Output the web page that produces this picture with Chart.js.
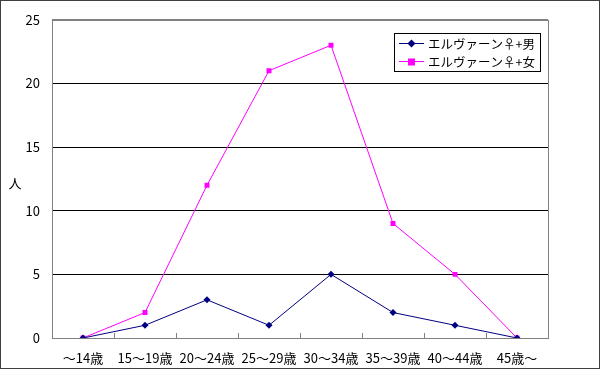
<!DOCTYPE html>
<html>
<head>
<meta charset="utf-8">
<script src="https://cdn.jsdelivr.net/npm/chart.js@4/dist/chart.umd.min.js"></script>
<style>
  html, body { margin: 0; padding: 0; background: #fff; }
  #wrap { width: 600px; height: 369px; position: relative; }
</style>
</head>
<body>
<div id="wrap"><canvas id="chart" width="600" height="369"></canvas></div>
<script>
const categories = ['～14歳', '15～19歳', '20～24歳', '25～29歳', '30～34歳', '35～39歳', '40～44歳', '45歳～'];
const maleValues = [0, 1, 3, 1, 5, 2, 1, 0];
const femaleValues = [0, 2, 12, 21, 23, 9, 5, 0];
const seriesNames = ['エルヴァーン♀+男', 'エルヴァーン♀+女'];
const yTitle = '人';

const FONT = "'Noto Sans CJK JP', 'Noto Sans', sans-serif";
const GRAY = '#808080';

// outer frame, plot border, inner x ticks, y title and legend box
const excelLook = {
  id: 'excelLook',
  beforeDraw(chart) {
    const ctx = chart.ctx;
    ctx.save();
    ctx.fillStyle = '#fff';
    ctx.fillRect(0, 0, chart.width, chart.height);
    ctx.restore();
  },
  beforeDatasetsDraw(chart) {
    const { ctx, chartArea: a, scales: { x } } = chart;
    ctx.save();
    ctx.strokeStyle = GRAY;
    ctx.lineWidth = 1;
    ctx.strokeRect(Math.round(a.left) + 0.5, Math.round(a.top) + 0.5, Math.round(a.right - a.left), Math.round(a.bottom - a.top));
    // inward tick marks between categories
    ctx.beginPath();
    for (let i = 1; i < categories.length; i++) {
      const px = Math.round((x.getPixelForValue(i - 1) + x.getPixelForValue(i)) / 2) + 0.5;
      ctx.moveTo(px, a.bottom);
      ctx.lineTo(px, a.bottom - 5);
    }
    ctx.stroke();
    ctx.restore();
  },
  afterDraw(chart) {
    const ctx = chart.ctx;
    ctx.save();
    // outer frame
    ctx.strokeStyle = '#404040';
    ctx.lineWidth = 1;
    ctx.strokeRect(0.5, 0.5, chart.width - 1, chart.height - 1);
    // y title
    ctx.fillStyle = '#000';
    ctx.font = '13px ' + FONT;
    ctx.textAlign = 'center';
    ctx.textBaseline = 'middle';
    ctx.fillText(yTitle, 15, 183);
    // legend
    const bx = 394.5, by = 33.5, bw = 146, bh = 38;
    ctx.fillStyle = '#fff';
    ctx.fillRect(bx, by, bw, bh);
    ctx.strokeStyle = '#000';
    ctx.strokeRect(bx, by, bw, bh);
    ctx.font = '12.5px ' + FONT;
    chart.data.datasets.forEach((ds, i) => {
      const cy = 43 + i * 18;
      ctx.strokeStyle = ds.borderColor;
      ctx.beginPath();
      ctx.moveTo(399, cy + 0.5);
      ctx.lineTo(424, cy + 0.5);
      ctx.stroke();
      ctx.fillStyle = ds.borderColor;
      if (ds.pointStyle === 'rect') {
        ctx.fillRect(408, cy - 2.5, 7, 7);
      } else {
        ctx.beginPath();
        ctx.moveTo(411.5, cy - 3.5);
        ctx.lineTo(415.5, cy + 0.5);
        ctx.lineTo(411.5, cy + 4.5);
        ctx.lineTo(407.5, cy + 0.5);
        ctx.closePath();
        ctx.fill();
      }
      ctx.fillStyle = '#000';
      ctx.textAlign = 'left';
      ctx.fillText(ds.label, 428, cy + 1);
    });
    ctx.restore();
  }
};

new Chart(document.getElementById('chart'), {
  type: 'line',
  data: {
    labels: categories,
    datasets: [
      {
        label: seriesNames[0],
        data: maleValues,
        borderColor: '#000080',
        backgroundColor: '#000080',
        borderWidth: 1,
        pointStyle: 'rectRot',
        pointRadius: 3.5,
        pointBorderWidth: 0,
        tension: 0,
      },
      {
        label: seriesNames[1],
        data: femaleValues,
        borderColor: '#ff00ff',
        backgroundColor: '#ff00ff',
        borderWidth: 1,
        pointStyle: 'rect',
        pointRadius: 3.5,
        pointBorderWidth: 0,
        tension: 0,
      },
    ],
  },
  options: {
    responsive: false,
    animation: false,
    layout: { padding: { top: 18, right: 52, left: 0, bottom: 0 } },
    plugins: { legend: { display: false }, tooltip: { enabled: false } },
    scales: {
      x: {
        offset: true,
        grid: { display: false, drawTicks: false },
        border: { display: false },
        ticks: { color: '#000', font: { family: FONT, size: 13 }, padding: 12, maxRotation: 0, autoSkip: false },
        afterFit(scale) { scale.height = 31; },
      },
      y: {
        min: 0,
        max: 25,
        grid: {
          drawTicks: false,
          color: ctx => (ctx.tick.value === 0 || ctx.tick.value === 25) ? GRAY : '#000',
        },
        border: { display: false },
        ticks: { stepSize: 5, color: '#000', font: { family: FONT, size: 13 }, padding: 12 },
        afterFit(scale) { scale.width = 52; },
      },
    },
  },
  plugins: [excelLook],
});
</script>
</body>
</html>
